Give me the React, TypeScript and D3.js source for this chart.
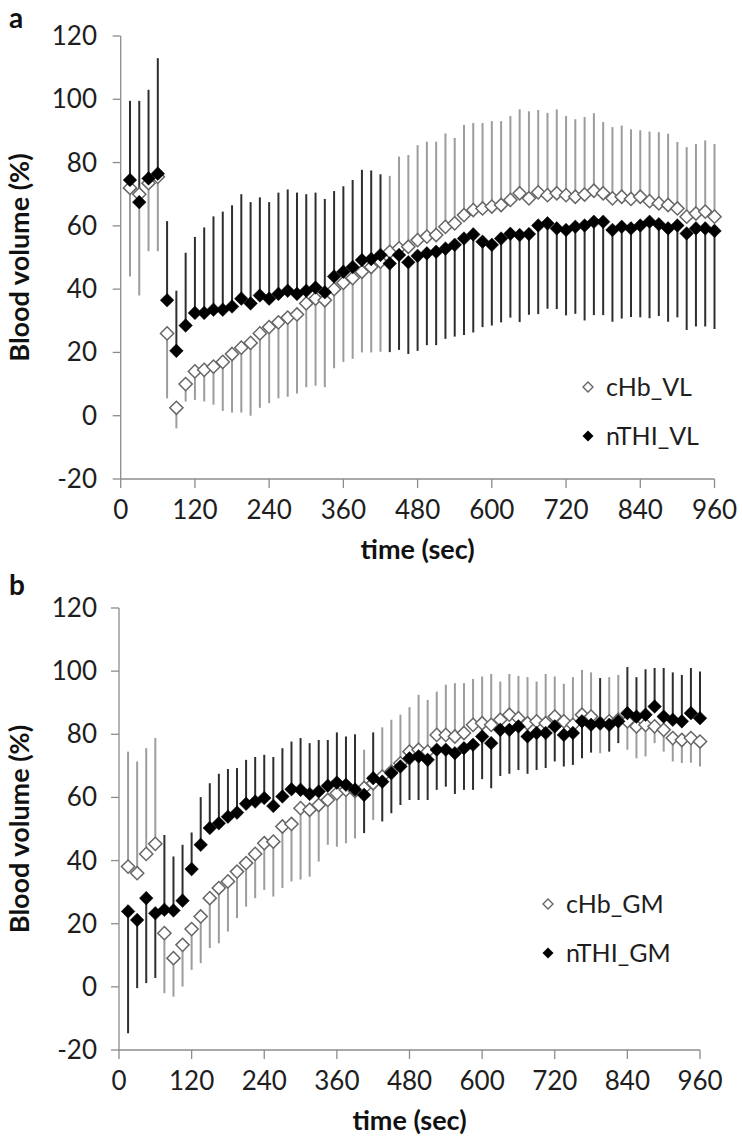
import React from 'react';
import * as d3 from 'd3';

// time points (sec)
const times = [15, 30, 45, 60, 75, 90, 105, 120, 135, 150, 165, 180, 195, 210, 225, 240, 255, 270, 285, 300, 315, 330, 345, 360, 375, 390, 405, 420, 435, 450, 465, 480, 495, 510, 525, 540, 555, 570, 585, 600, 615, 630, 645, 660, 675, 690, 705, 720, 735, 750, 765, 780, 795, 810, 825, 840, 855, 870, 885, 900, 915, 930, 945, 960];
const xTicks = [0, 120, 240, 360, 480, 600, 720, 840, 960];
const yTicks = [-20, 0, 20, 40, 60, 80, 100, 120];

// Panel a (VL)
const cHbVL = [72, 70, 73.5, 75.5, 26, 2.5, 10, 14, 14.5, 15.5, 17, 19.5, 21.5, 23, 26, 28, 29.5, 31, 32, 35.5, 37, 36.5, 40, 42, 43.5, 45.5, 47, 48.7, 51.8, 52.9, 53.4, 55.5, 56.6, 57.1, 59.7, 60.8, 63.4, 65, 65.5, 66.1, 66.6, 68.2, 70.3, 68.7, 70.6, 69.7, 70.3, 69.7, 69.2, 69.9, 71.1, 70.3, 68.7, 69.2, 68.5, 69.2, 67.8, 67.1, 66.6, 65.5, 62.9, 63.9, 64.5, 62.9];
// one-sided error bars: positive = drawn upward, negative = drawn downward
const cHbVLErr = [-28, -32, -21.5, -23.5, -20.5, -6.5, -5.5, -9, -10, -12, -15.5, -18.5, -20.5, -23, -23.5, -24, -24, -25, -25, -26.5, -27.5, -27.5, -25, -25, -25.5, -25.5, -27, -28.5, 24, 29, 29, 30, 30, 29.5, 29.5, 27, 28.5, 27.5, 27, 27, 26.5, 26.5, 26.5, 27.5, 26, 26, 26.5, 25, 24.5, 24.5, 24.5, 22.5, 22.5, 22.5, 22, 21, 22, 22.5, 22.5, 21, 22, 22, 22.5, 23];
const nTHIVL = [74.5, 67.5, 75, 76.5, 36.5, 20.5, 28.5, 32.5, 32.5, 33.5, 33.5, 34.5, 37, 35.5, 38, 37, 38.5, 39.5, 38.5, 39.5, 40.5, 39, 44, 45.5, 47, 49.2, 49.5, 50.8, 48.1, 50.8, 48.5, 50.5, 51.3, 51.8, 52.8, 54, 56, 57.3, 55, 54, 56, 57.5, 57.1, 57.4, 60.1, 60.8, 59.2, 58.7, 59.7, 60.1, 61.3, 61.3, 58.7, 59.7, 59.2, 60.1, 61.3, 60.5, 59.2, 60.1, 57.6, 59.2, 59.2, 58.4];
const nTHIVLErr = [25, 32, 28, 36.5, 25, 19, 23, 24, 27, 29.5, 31, 32, 33, 32, 31, 30.5, 32, 32, 32, 30.5, 30, 29.5, 27, 27, 27.5, 28.5, 28, 25.5, -28, -30, -29, -30, -29, -29.5, -28.5, -29, -30.5, -31, -27, -25.5, -26.5, -26.5, -27.5, -25.5, -28, -27, -25.5, -27, -27.5, -30, -29.5, -29.5, -29, -29, -28, -29, -30.5, -29, -29.5, -29, -30.5, -31, -31, -31];

// Panel b (GM)
const cHbGM = [38.1, 36, 42.1, 45.3, 17, 9.1, 13.3, 18.3, 22.3, 28.1, 31.3, 33.4, 36.5, 39.2, 42.1, 45.5, 46, 50.8, 51.6, 56.6, 56.1, 57.6, 59.2, 61.3, 62.4, 62, 63, 64.5, 66.6, 68.2, 70.8, 74.5, 75.1, 74.5, 79.8, 79.8, 79.3, 80.4, 83, 83.5, 83, 84.6, 86.2, 85.1, 83.5, 84.1, 83.5, 85.6, 84.1, 83, 86.2, 85.6, 83.5, 84.1, 84.6, 84.1, 82.5, 83, 82.5, 81.4, 78.8, 78.2, 78.8, 77.7];
const cHbGMErr = [36.4, 35.4, 33.5, 33.5, -19, -12.2, -13.2, -12.9, -14.8, -15.8, -17.5, -15.9, -14.7, -13.8, -14, -14.8, -17.4, -19.5, -18.2, -22.6, -21.2, -17.9, -14.2, -16.9, -16.9, -15, 12.1, -11.6, 15.6, 16.4, 15.4, 14.1, 17.4, 16.4, 13.7, 15.9, 16.9, 15.8, 14.5, 14.8, 16.1, 12.1, 12.9, 13.4, 14.6, 12.6, 15.6, 12.7, 11.9, 15.1, 14.2, 14, -9.5, 14, 14.2, -9, -10.1, -10, -5.3, -6.9, -7.4, -7.3, -7.8, -7.9];
const nTHIGM = [23.9, 21.2, 28.1, 23.3, 24.4, 24.2, 27.3, 37.3, 45, 50.3, 51.8, 53.9, 55.2, 58, 58.7, 59.8, 57.3, 60.3, 62.6, 62.4, 61.1, 61.9, 63.7, 64.7, 64, 62.5, 60.8, 66.1, 65, 67.7, 69.8, 72.4, 73, 71.9, 75.1, 75.1, 74, 75.6, 76.7, 79.3, 77.2, 81.4, 81.4, 82.5, 79.3, 80.4, 80.4, 82.5, 79.8, 80.4, 84.1, 83, 83.5, 83, 84.1, 86.7, 85.6, 86.2, 88.8, 85.6, 84.6, 84.1, 86.7, 85.1];
const nTHIGMErr = [-38.6, -21.6, -26.9, -20.5, 23.7, 17.1, 17.7, 11.6, 15.1, 14.2, 15.7, 15.1, 14.1, 13.9, 14.1, 13.7, 15.5, 15.3, 15.1, 16.4, 16.1, 16.3, 14.5, 15.9, 15.3, 17.5, -12.1, 14.5, -12.6, -12.7, -12.2, -13.2, -13.8, -12.7, -12.7, -11.7, -12.9, -13.2, -14.3, -13.5, -14.3, -14.6, -13.9, -13.8, -11.8, -11.7, -11.1, -11.1, -10, -10.1, -11.7, -8.8, 14.3, -8.5, -6.9, 14.6, 12.5, 14.4, 12.2, 15.4, 15, 14.7, 14.3, 14.8];

const FONT = "Lato, 'Open Sans', sans-serif";
const AXIS = '#8c8c8c';
const GREY_BAR = '#9c9c9c';
const BLACK_BAR = '#2e2e2e';
const WHITE_STROKE = '#666';

const diamond = (r: number) => `M0,${-r}L${r},0L0,${r}L${-r},0Z`;

type PanelProps = {
  letter: string; letterY: number;
  x0: number; x1: number; yTop: number; yBot: number;
  cHb: number[]; cHbErr: number[]; nTHI: number[]; nTHIErr: number[];
  names: [string, string];
  legendX: number; legendY: number;
};

function Panel(p: PanelProps) {
  const x = d3.scaleLinear().domain([0, 960]).range([p.x0, p.x1]);
  const y = d3.scaleLinear().domain([-20, 120]).range([p.yBot, p.yTop]);
  const bars = (vals: number[], errs: number[], color: string, key: string) =>
    times.map((t, i) => (
      <line key={key + i} x1={x(t)} x2={x(t)} y1={y(vals[i])} y2={y(vals[i] + errs[i])}
        stroke={color} strokeWidth={2} />
    ));
  const midY = (p.yTop + p.yBot) / 2;
  const midX = (p.x0 + p.x1) / 2;
  return (
    <g>
      <text x={9} y={p.letterY} fontFamily={FONT} fontWeight={700} fontSize={28} fill="#111">{p.letter}</text>
      {/* axes */}
      <line x1={x(0)} x2={x(0)} y1={y(-20)} y2={y(120)} stroke={AXIS} strokeWidth={1.3} />
      <line x1={x(0)} x2={x(960)} y1={y(-20)} y2={y(-20)} stroke={AXIS} strokeWidth={1.3} />
      {yTicks.map(v => (
        <g key={'yt' + v}>
          <line x1={x(0) - 8} x2={x(0)} y1={y(v)} y2={y(v)} stroke={AXIS} strokeWidth={1.3} />
          <text x={97} y={y(v) + 9} textAnchor="end" fontFamily={FONT} fontSize={26} fill="#1e1e1e">{v}</text>
        </g>
      ))}
      {xTicks.map(v => (
        <g key={'xt' + v}>
          <line x1={x(v)} x2={x(v)} y1={y(-20)} y2={y(-20) + 9} stroke={AXIS} strokeWidth={1.3} />
          <text x={x(v)} y={y(-20) + 40} textAnchor="middle" fontFamily={FONT} fontSize={26} fill="#1e1e1e">{v}</text>
        </g>
      ))}
      <text transform={`translate(29,${midY}) rotate(-90)`} textAnchor="middle" fontFamily={FONT} fontWeight={700} fontSize={27} fill="#111">Blood volume (%)</text>
      <text x={midX} y={y(-20) + 80} textAnchor="middle" fontFamily={FONT} fontWeight={700} fontSize={27} fill="#111">time (sec)</text>
      {/* error bars */}
      {bars(p.cHb, p.cHbErr, GREY_BAR, 'cb')}
      {bars(p.nTHI, p.nTHIErr, BLACK_BAR, 'nb')}
      {/* markers */}
      {times.map((t, i) => (
        <path key={'cm' + i} d={diamond(6.6)} transform={`translate(${x(t)},${y(p.cHb[i])})`} fill="#fff" stroke={WHITE_STROKE} strokeWidth={1.5} />
      ))}
      {times.map((t, i) => (
        <path key={'nm' + i} d={diamond(6.8)} transform={`translate(${x(t)},${y(p.nTHI[i])})`} fill="#000" stroke="#000" strokeWidth={0.5} />
      ))}
      {/* legend */}
      <path d={diamond(5)} transform={`translate(${p.legendX},${p.legendY})`} fill="#fff" stroke={WHITE_STROKE} strokeWidth={1.4} />
      <text x={p.legendX + 18} y={p.legendY + 9} fontFamily={FONT} fontSize={25} fill="#1e1e1e">{p.names[0]}</text>
      <path d={diamond(5.5)} transform={`translate(${p.legendX},${p.legendY + 49})`} fill="#000" />
      <text x={p.legendX + 18} y={p.legendY + 58} fontFamily={FONT} fontSize={25} fill="#1e1e1e">{p.names[1]}</text>
    </g>
  );
}

export default function App() {
  return (
    <svg width={742} height={1142} style={{ position: 'absolute', left: 0, top: 0, background: '#fff' }}>
      <rect width={742} height={1142} fill="#fff" />
      <Panel letter="a" letterY={28} x0={120.7} x1={714.5} yTop={36} yBot={479}
        cHb={cHbVL} cHbErr={cHbVLErr} nTHI={nTHIVL} nTHIErr={nTHIVLErr}
        names={['cHb_VL', 'nTHI_VL']} legendX={588} legendY={387} />
      <Panel letter="b" letterY={595} x0={119} x1={700} yTop={608} yBot={1050}
        cHb={cHbGM} cHbErr={cHbGMErr} nTHI={nTHIGM} nTHIErr={nTHIGMErr}
        names={['cHb_GM', 'nTHI_GM']} legendX={548} legendY={904} />
    </svg>
  );
}
